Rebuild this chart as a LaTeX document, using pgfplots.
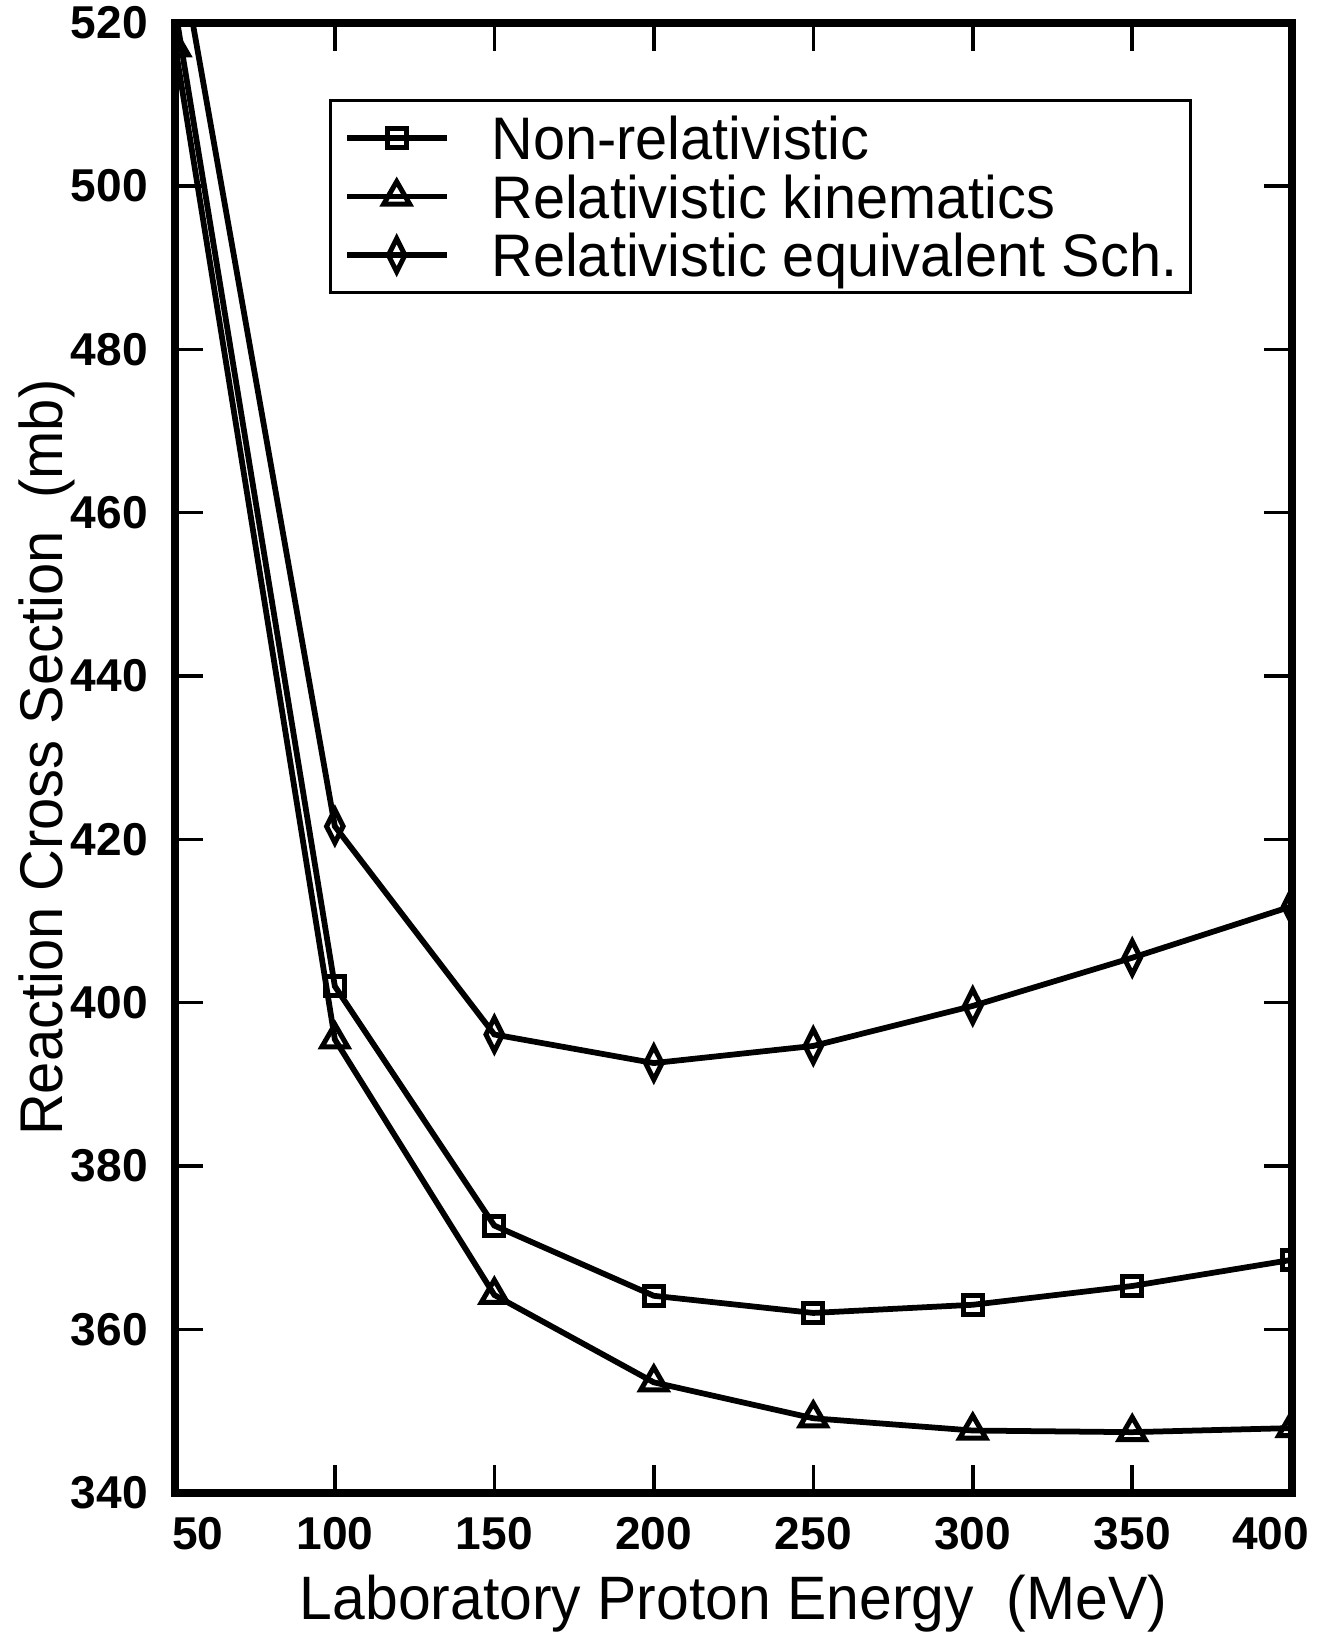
\documentclass[border=0pt]{standalone}
\usepackage{pgfplots}
\pgfplotsset{compat=1.18}
\usepackage{fontspec}
\setmainfont{Liberation Sans}
\newfontfamily\labelfont[FakeStretch=0.96]{Liberation Sans}
\begin{document}
\begin{tikzpicture}
\begin{axis}[
  width=223pt, height=293.6pt, scale only axis,
  xmin=50, xmax=400, ymin=340, ymax=520,
  xtick={50,100,...,400}, ytick={340,360,...,520},
  xticklabels={50\hspace*{-9pt},100,150,200,250,300,350,\hspace*{-8.4pt}400},
  /pgf/number format/assume math mode=true,
  tick align=inside, major tick length=5.6pt,
  axis line style={line width=1.6pt},
  tick style={line width=0.7pt, black},
  tick label style={font=\fontsize{9.2}{10}\selectfont\bfseries},
  xticklabel style={yshift=-1.4pt},
  yticklabel style={xshift=-2pt, inner ysep=1.3pt},
  xlabel={Laboratory Proton Energy\ \ (MeV)},
  ylabel={Reaction Cross Section\ \ (mb)},
  xlabel style={font=\labelfont\fontsize{12.25}{14}\selectfont,
    at={(axis description cs:0.5,-0.0862)}, anchor=base, inner sep=0pt},
  ylabel style={font=\labelfont\fontsize{12.05}{14}\selectfont,
    at={(axis description cs:-0.158,0.5)}, anchor=north, inner sep=3.8pt},
  axis on top, clip marker paths=true,
  every axis plot/.append style={line width=1.15pt, black},
  legend image code/.code={\draw[mark repeat=2,mark phase=2,#1] plot coordinates {(0cm,0cm)(0.35cm,0cm)(0.7cm,0cm)};},
  legend cell align=left,
  legend style={at={(0.138,0.948)}, anchor=north west, draw=black, line width=0.6pt,
    font=\labelfont\fontsize{12}{14}\selectfont, inner xsep=2.6pt, inner ysep=3.1pt,
    nodes={inner sep=0pt, text height=8.7pt, text depth=0pt}, row sep=3pt, column sep=8.4pt},
]
\addplot[mark=square, mark size=1.9pt, mark options={fill=white, line width=1pt}] coordinates {
  (50,521.5) (100,402) (150,372.7) (200,364.1) (250,362) (300,363) (350,365.3) (400,368.5)};
\addlegendentry{Non-relativistic}
\addplot[mark=triangle, mark size=3pt, mark options={fill=white, line width=1pt}] coordinates {
  (50,517) (100,395.5) (150,364.2) (200,353.5) (250,349.1) (300,347.6) (350,347.4) (400,347.9)};
\addlegendentry{Relativistic kinematics}
\addplot[mark=diamond, mark size=3.3pt, mark options={fill=white, line width=1pt, xscale=0.67}] coordinates {
  (50,532) (100,421.6) (150,396.1) (200,392.6) (250,394.7) (300,399.6) (350,405.5) (400,411.8)};
\addlegendentry{Relativistic equivalent Sch.}
\end{axis}
\end{tikzpicture}
\end{document}
